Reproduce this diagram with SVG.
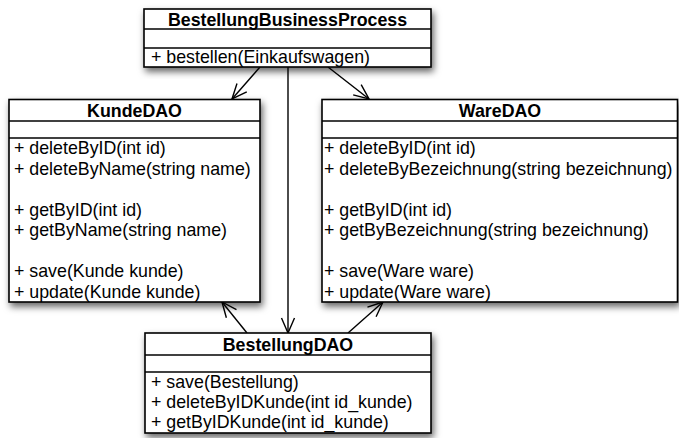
<svg xmlns="http://www.w3.org/2000/svg" width="679" height="438" viewBox="0 0 679 438">
  <defs>
    <filter id="shadow" x="-10%" y="-10%" width="125%" height="130%">
      <feDropShadow dx="2" dy="4" stdDeviation="3.5" flood-color="#000" flood-opacity="0.6"/>
    </filter>
    <marker id="open-arrow" markerUnits="userSpaceOnUse" markerWidth="20" markerHeight="20" viewBox="-18 -10 20 20" refX="0" refY="0" orient="auto">
      <path d="M -15 -6.5 L 0 0 L -15 6.5" fill="none" stroke="#000" stroke-width="1.4"/>
    </marker>
    <style>
      .box { fill: #fff; stroke: #000; stroke-width: 1.6; }
      .sep { stroke: #000; stroke-width: 1.4; }
      .title { font-family: "Liberation Sans", Arial, Helvetica, sans-serif; font-size: 17.8px; font-weight: bold; text-anchor: middle; fill: #000; }
      .op { font-family: "Liberation Sans", Arial, Helvetica, sans-serif; font-size: 17.8px; fill: #000; }
      .assoc { fill: none; stroke: #000; stroke-width: 1.4; marker-end: url(#open-arrow); }
    </style>
  </defs>

  <!-- associations -->
  <g id="connectors">
    <line class="assoc" x1="260" y1="67" x2="232" y2="99"/>
    <line class="assoc" x1="328" y1="67" x2="369" y2="99"/>
    <line class="assoc" x1="288" y1="67" x2="288" y2="333"/>
    <line class="assoc" x1="247" y1="333" x2="222" y2="302"/>
    <line class="assoc" x1="348" y1="333" x2="383" y2="302"/>
  </g>

  <!-- BestellungBusinessProcess -->
  <g id="BestellungBusinessProcess">
    <rect class="box" x="144" y="9" width="287" height="58" filter="url(#shadow)"/>
    <line class="sep" x1="144" y1="29" x2="431" y2="29"/>
    <line class="sep" x1="144" y1="48" x2="431" y2="48"/>
    <text class="title" x="287.5" y="25.5">BestellungBusinessProcess</text>
    <text class="op" x="151" y="63">+ bestellen(Einkaufswagen)</text>
  </g>

  <!-- KundeDAO -->
  <g id="KundeDAO">
    <rect class="box" x="9" y="99.5" width="251" height="202.5" filter="url(#shadow)"/>
    <line class="sep" x1="9" y1="121" x2="260" y2="121"/>
    <line class="sep" x1="9" y1="138" x2="260" y2="138"/>
    <text class="title" x="134.5" y="116.5">KundeDAO</text>
    <text class="op" x="14" y="154">+ deleteByID(int id)</text>
    <text class="op" x="14" y="174.5">+ deleteByName(string name)</text>
    <text class="op" x="14" y="215.5">+ getByID(int id)</text>
    <text class="op" x="14" y="236">+ getByName(string name)</text>
    <text class="op" x="14" y="277">+ save(Kunde kunde)</text>
    <text class="op" x="14" y="297.5">+ update(Kunde kunde)</text>
  </g>

  <!-- WareDAO -->
  <g id="WareDAO">
    <rect class="box" x="322" y="99.5" width="355.5" height="202.5" filter="url(#shadow)"/>
    <line class="sep" x1="322" y1="121" x2="677.5" y2="121"/>
    <line class="sep" x1="322" y1="138" x2="677.5" y2="138"/>
    <text class="title" x="500" y="116.5">WareDAO</text>
    <text class="op" x="324" y="154">+ deleteByID(int id)</text>
    <text class="op" x="324" y="174.5">+ deleteByBezeichnung(string bezeichnung)</text>
    <text class="op" x="324" y="215.5">+ getByID(int id)</text>
    <text class="op" x="324" y="236">+ getByBezeichnung(string bezeichnung)</text>
    <text class="op" x="324" y="277">+ save(Ware ware)</text>
    <text class="op" x="324" y="297.5">+ update(Ware ware)</text>
  </g>

  <!-- BestellungDAO -->
  <g id="BestellungDAO">
    <rect class="box" x="145" y="333" width="286" height="100" filter="url(#shadow)"/>
    <line class="sep" x1="145" y1="355" x2="431" y2="355"/>
    <line class="sep" x1="145" y1="372" x2="431" y2="372"/>
    <text class="title" x="288" y="350.5">BestellungDAO</text>
    <text class="op" x="151" y="388">+ save(Bestellung)</text>
    <text class="op" x="151" y="408">+ deleteByIDKunde(int id_kunde)</text>
    <text class="op" x="151" y="427.5">+ getByIDKunde(int id_kunde)</text>
  </g>
</svg>
